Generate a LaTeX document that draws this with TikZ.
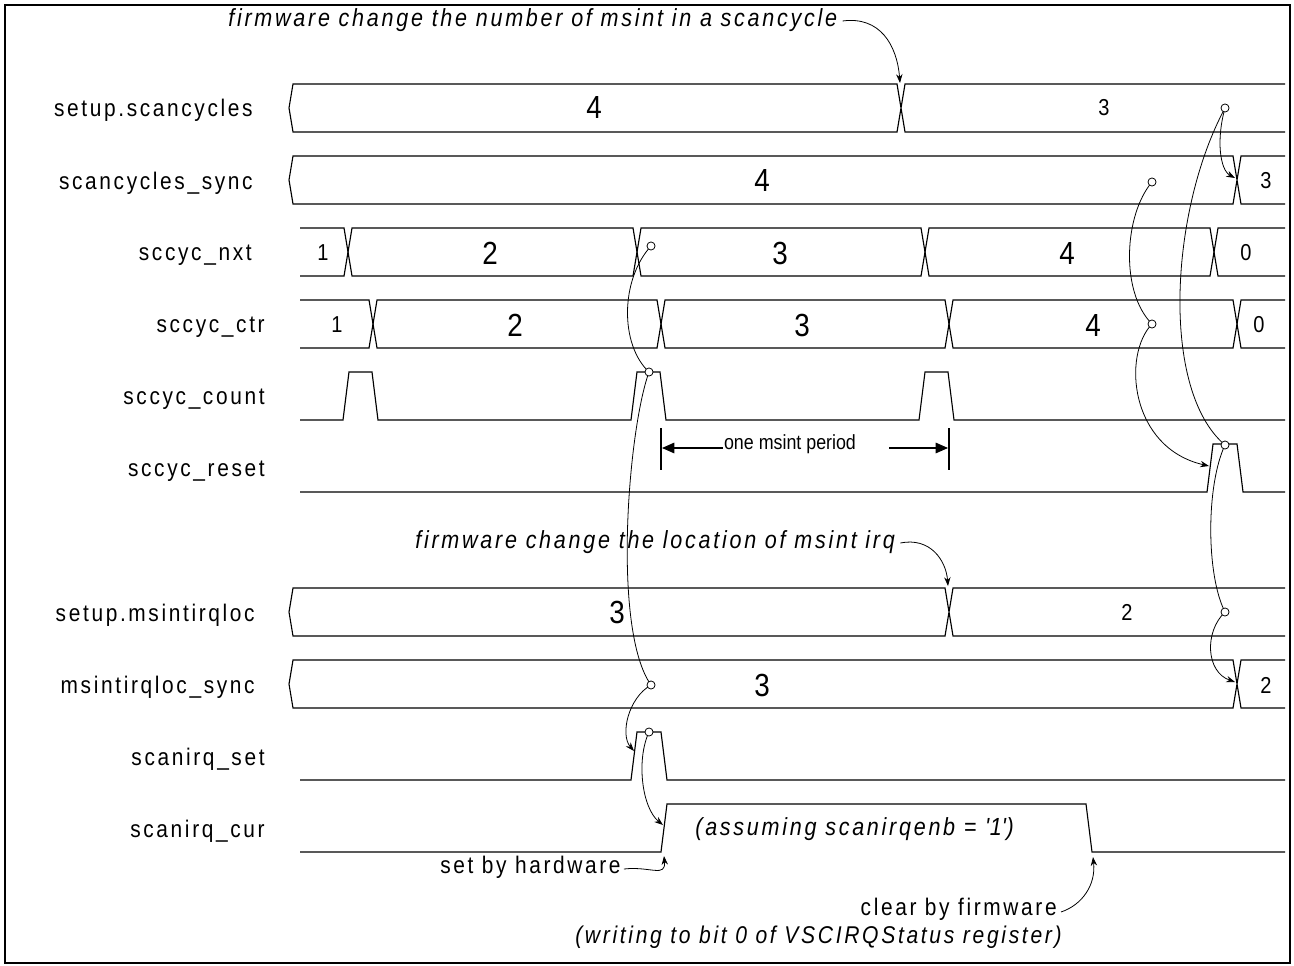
\documentclass[tikz,border=0pt]{standalone}
\usepackage{fontspec}
\setmainfont{Liberation Sans}[FakeStretch=0.87,LetterSpace=11]
\newfontfamily\plainf{Liberation Sans}[FakeStretch=0.87]
\usetikzlibrary{arrows.meta}
\newcommand\fs[1]{\fontsize{#1pt}{#1pt}\selectfont}
\begin{document}
\begin{tikzpicture}[x=0.02cm,y=-0.02cm,
  sig/.style={line width=0.65pt,line join=miter},
  lbl/.style={anchor=east,inner sep=0pt,font=\fs{13.66}},
  big/.style={inner sep=0pt,font=\plainf\fs{18.2}},
  small/.style={inner sep=0pt,font=\plainf\fs{13.1}},
  note/.style={inner sep=0pt,font=\fs{14.1}\itshape},
  txt/.style={inner sep=0pt,font=\fs{13.66}},
  cause/.style={line width=0.45pt},
  carrow/.style={line width=0.45pt,-{Stealth[length=5pt,width=3.6pt]}},
  dot/.style={circle,draw,fill=white,line width=0.45pt,minimum size=4.6pt,inner sep=0pt},
  bar/.style={line width=1.2pt},
  parrow/.style={line width=0.6pt,-{Triangle[length=7pt,width=6pt]}}]
\useasboundingbox (0,0) rectangle (1294,966);
\draw[line width=1.2pt] (5,5) rectangle (1290,963);

% labels
\node[lbl] (l0) at (253,110) {setup.scancycles};
\node[lbl] (l1) at (253,183) {scancycles\_sync};
\node[lbl] (l2) at (252,255) {sccyc\_nxt};
\node[lbl] (l3) at (265,327) {sccyc\_ctr};
\node[lbl] (l4) at (265,399) {sccyc\_count};
\node[lbl] (l5) at (265,471) {sccyc\_reset};
\node[lbl] (l6) at (255,615) {setup.msintirqloc};
\node[lbl] (l7) at (255,687) {msintirqloc\_sync};
\node[lbl] (l8) at (265,759) {scanirq\_set};
\node[lbl] (l9) at (265,831) {scanirq\_cur};

% signals
\draw[sig] (1285,84) -- (905,84) -- (897,132) -- (293,132) -- (289,108) -- (293,84) -- (897,84) -- (905,132) -- (1285,132);
\draw[sig] (1285,156) -- (1241,156) -- (1233,204) -- (293,204) -- (289,180) -- (293,156) -- (1233,156) -- (1241,204) -- (1285,204);
\draw[sig] (300,228) -- (344,228) -- (352,276) -- (633,276) -- (641,228) -- (921,228) -- (929,276) -- (1210,276) -- (1218,228) -- (1285,228);
\draw[sig] (300,276) -- (344,276) -- (352,228) -- (633,228) -- (641,276) -- (921,276) -- (929,228) -- (1210,228) -- (1218,276) -- (1285,276);
\draw[sig] (300,300) -- (369,300) -- (377,348) -- (657,348) -- (665,300) -- (945,300) -- (953,348) -- (1233,348) -- (1241,300) -- (1285,300);
\draw[sig] (300,348) -- (369,348) -- (377,300) -- (657,300) -- (665,348) -- (945,348) -- (953,300) -- (1233,300) -- (1241,348) -- (1285,348);
\draw[sig] (300,420) -- (343,420) -- (349,372) -- (372,372) -- (378,420) -- (631,420) -- (637,372) -- (660,372) -- (666,420) -- (919,420) -- (925,372) -- (948,372) -- (954,420) -- (1285,420);
\draw[sig] (300,492) -- (1207,492) -- (1213,444) -- (1237,444) -- (1243,492) -- (1285,492);
\draw[sig] (1285,588) -- (953,588) -- (945,636) -- (293,636) -- (289,612) -- (293,588) -- (945,588) -- (953,636) -- (1285,636);
\draw[sig] (1285,660) -- (1241,660) -- (1233,708) -- (293,708) -- (289,684) -- (293,660) -- (1233,660) -- (1241,708) -- (1285,708);
\draw[sig] (300,780) -- (631,780) -- (637,732) -- (661,732) -- (667,780) -- (1285,780);
\draw[sig] (300,852) -- (661,852) -- (667,804) -- (1086,804) -- (1092,852) -- (1285,852);

% values
\node[big] (v00) at (594,108) {4};
\node[small] (v01) at (1104,108) {3};
\node[big] (v10) at (762,181) {4};
\node[small] (v11) at (1266,181) {3};
\node[small] (v20) at (323,253) {1};
\node[big] (v21) at (490,253) {2};
\node[big] (v22) at (780,253) {3};
\node[big] (v23) at (1067,253) {4};
\node[small] (v24) at (1246,253) {0};
\node[small] (v30) at (337,325) {1};
\node[big] (v31) at (515,325) {2};
\node[big] (v32) at (802,325) {3};
\node[big] (v33) at (1093,325) {4};
\node[small] (v34) at (1259,325) {0};
\node[big] (v60) at (617,612) {3};
\node[small] (v61) at (1127,612) {2};
\node[big] (v70) at (762,685) {3};
\node[small] (v71) at (1266,685) {2};

% annotations
\node[note,anchor=west] (n1) at (228,20) {firmware change the number of msint in a scancycle};
\coordinate (t1) at (900,83);
\draw[carrow] (n1.east) ++(5,1) .. controls (880,16) and (897,45) .. (t1);
\node[note,anchor=west] (n2) at (415,542) {firmware change the location of msint irq};
\coordinate (t2) at (948,586);
\draw[carrow] (n2.east) ++(5,1) .. controls (930,537) and (946,560) .. (t2);
\node[note,anchor=west] (n3) at (695,829) {(assuming scanirqenb = \textquotesingle 1\textquotesingle)};
\node[txt,anchor=west] (n4) at (440,867) {set by hardware};
\coordinate (t4) at (664,856);
\draw[carrow] (n4.east) ++(3,2) .. controls (650,866) and (666,878) .. (t4);
\node[txt,anchor=east] (n5) at (1057,909) {clear by firmware};
\node[note,anchor=east,font=\fs{13.8}\itshape] (n6) at (1062,937) {(writing to bit 0 of VSCIRQStatus register)};
\coordinate (t5) at (1093,857);
\draw[carrow] (n5.east) ++(4,3) .. controls (1082,905) and (1096,885) .. (t5);

% one msint period
\draw[bar] (661,428) -- (661,470);
\draw[bar] (949,428) -- (949,470);
\node[inner sep=0pt,font=\plainf\fs{11.67}] (per) at (790,444) {one msint period};
\coordinate (pl) at (662,448);
\coordinate (pr) at (948,448);
\draw[parrow] (723,448) -- (pl);
\draw[parrow] (889,448) -- (pr);

% causality (left)
\coordinate (a1) at (651,246);
\coordinate (a2) at (649,372);
\coordinate (a3) at (651,685);
\coordinate (a4) at (649,732);
\coordinate (e3) at (634,751);
\coordinate (e4) at (663,825);
\draw[cause] (a1) .. controls (620,280) and (620,345) .. (a2);
\draw[cause] (a2) .. controls (628,430) and (612,630) .. (a3);
\draw[carrow] (a3) .. controls (628,698) and (620,735) .. (e3);
\draw[carrow] (a4) .. controls (636,760) and (642,808) .. (e4);

% causality (right)
\coordinate (b1) at (1225,108);
\coordinate (b2) at (1152,182);
\coordinate (b3) at (1152,324);
\coordinate (b4) at (1225,445);
\coordinate (b5) at (1225,612);
\coordinate (f1) at (1235,178);
\coordinate (f4) at (1209,466);
\coordinate (f6) at (1235,682);
\draw[carrow] (b1) .. controls (1216,140) and (1220,170) .. (f1);
\draw[cause] (b1) .. controls (1170,210) and (1160,390) .. (b4);
\draw[cause] (b2) .. controls (1124,215) and (1120,292) .. (b3);
\draw[carrow] (b3) .. controls (1122,355) and (1130,448) .. (f4);
\draw[cause] (b4) .. controls (1206,485) and (1206,575) .. (b5);
\draw[carrow] (b5) .. controls (1204,632) and (1206,672) .. (f6);

\foreach \p/\n in {a1/d1,a2/d2,a3/d3,a4/d4,b1/d5,b2/d6,b3/d7,b4/d8,b5/d9}
  \node[dot] (\n) at (\p) {};
\end{tikzpicture}
\end{document}
